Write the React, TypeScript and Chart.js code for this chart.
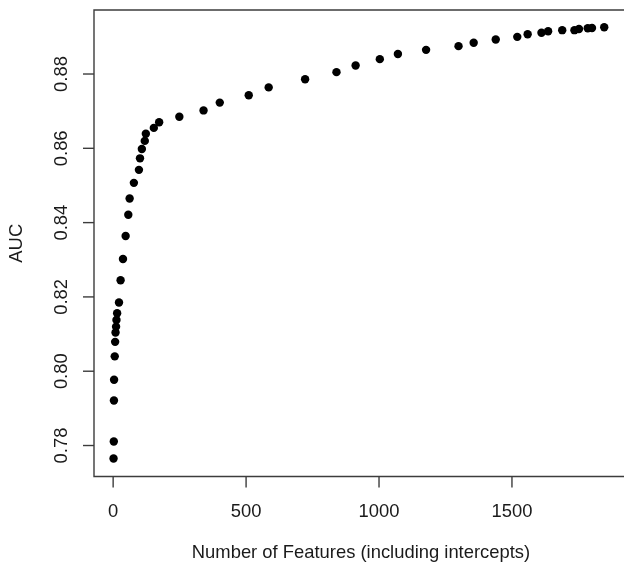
import React, { useEffect, useRef } from "react";
import { Chart, registerables } from "chart.js";

Chart.register(...registerables);

// Number of features (including intercepts)
const FEATURES: number[] = [
  1.5, 2.5, 3, 3.5, 6, 7.5, 9, 11, 12.5, 15, 22, 28, 37, 47, 57, 62, 78, 97, 101,
  108, 119, 123, 153, 173, 249, 340, 401, 510, 585, 722, 840, 912, 1003, 1071,
  1177, 1299, 1356, 1439, 1520, 1559, 1611, 1636, 1689, 1735, 1752, 1785, 1801, 1847,
];

// AUC values
const AUC: number[] = [
  0.7765, 0.7811, 0.7921, 0.7977, 0.804, 0.8079, 0.8104, 0.812, 0.8138, 0.8156,
  0.8185, 0.8245, 0.8302, 0.8364, 0.8421, 0.8465, 0.8507, 0.8542, 0.8573, 0.8598,
  0.862, 0.8639, 0.8655, 0.867, 0.8685, 0.8702, 0.8723, 0.8743, 0.8764, 0.8786,
  0.8805, 0.8823, 0.884, 0.8854, 0.8865, 0.8875, 0.8884, 0.8893, 0.89, 0.8907,
  0.8911, 0.8915, 0.8918, 0.8918, 0.8921, 0.8923, 0.8924, 0.8926,
];

const X_TICKS: number[] = [0, 500, 1000, 1500];
const X_TICK_LABELS: string[] = ["0", "500", "1000", "1500"];
const Y_TICKS: number[] = [0.78, 0.8, 0.82, 0.84, 0.86, 0.88];
const Y_TICK_LABELS: string[] = ["0.78", "0.80", "0.82", "0.84", "0.86", "0.88"];

const X_TITLE = "Number of Features (including intercepts)";
const Y_TITLE = "AUC";

const FONT = '18.4px "Liberation Sans", Arial, Helvetica, sans-serif';

const rAxesPlugin = {
  id: "rAxes",
  afterDraw(chart: any) {
    const { ctx, chartArea, scales } = chart;
    const { left, top, bottom } = chartArea;
    const xs = scales.x;
    const ys = scales.y;
    ctx.save();
    ctx.strokeStyle = "#3c3c3c";
    ctx.lineWidth = 1.4;
    // box (right side lies just outside the canvas)
    ctx.beginPath();
    ctx.moveTo(640, top);
    ctx.lineTo(left, top);
    ctx.lineTo(left, bottom);
    ctx.lineTo(640, bottom);
    ctx.stroke();

    ctx.fillStyle = "#1a1a1a";
    ctx.font = FONT;
    ctx.textAlign = "center";
    ctx.textBaseline = "middle";

    // x axis ticks
    X_TICKS.forEach((v, i) => {
      const px = xs.getPixelForValue(v);
      ctx.beginPath();
      ctx.moveTo(px, bottom);
      ctx.lineTo(px, bottom + 11);
      ctx.stroke();
      ctx.fillText(X_TICK_LABELS[i], px, bottom + 35);
    });

    // y axis ticks
    Y_TICKS.forEach((v, i) => {
      const py = ys.getPixelForValue(v);
      ctx.beginPath();
      ctx.moveTo(left, py);
      ctx.lineTo(left - 11, py);
      ctx.stroke();
      ctx.save();
      ctx.translate(left - 32, py);
      ctx.rotate(-Math.PI / 2);
      ctx.fillText(Y_TICK_LABELS[i], 0, 0);
      ctx.restore();
    });

    // titles
    ctx.fillText(X_TITLE, 361, 553);
    ctx.save();
    ctx.translate(17, (top + bottom) / 2);
    ctx.rotate(-Math.PI / 2);
    ctx.fillText(Y_TITLE, 0, 0);
    ctx.restore();

    ctx.restore();
  },
};

export default function App() {
  const ref = useRef<HTMLCanvasElement | null>(null);

  useEffect(() => {
    if (!ref.current) return;
    const chart = new Chart(ref.current, {
      type: "scatter",
      data: {
        datasets: [
          {
            data: FEATURES.map((x, i) => ({ x, y: AUC[i] })),
            pointRadius: 4.2,
            pointBackgroundColor: "#000",
            pointBorderWidth: 0,
            borderColor: "#000",
            showLine: false,
          },
        ],
      },
      options: {
        animation: false,
        responsive: false,
        devicePixelRatio: 1,
        layout: { padding: { left: 94, top: 10, right: 0, bottom: 89.5 } },
        plugins: { legend: { display: false }, tooltip: { enabled: false } },
        scales: {
          x: { type: "linear", min: -72, max: 1905.6, display: false },
          y: { type: "linear", min: 0.77166, max: 0.89723, display: false },
        },
      },
      plugins: [rAxesPlugin],
    });
    return () => chart.destroy();
  }, []);

  return (
    <div style={{ position: "fixed", left: 0, top: 0, width: 624, height: 566, background: "#fff" }}>
      <canvas ref={ref} width={624} height={566} style={{ display: "block" }} />
    </div>
  );
}
